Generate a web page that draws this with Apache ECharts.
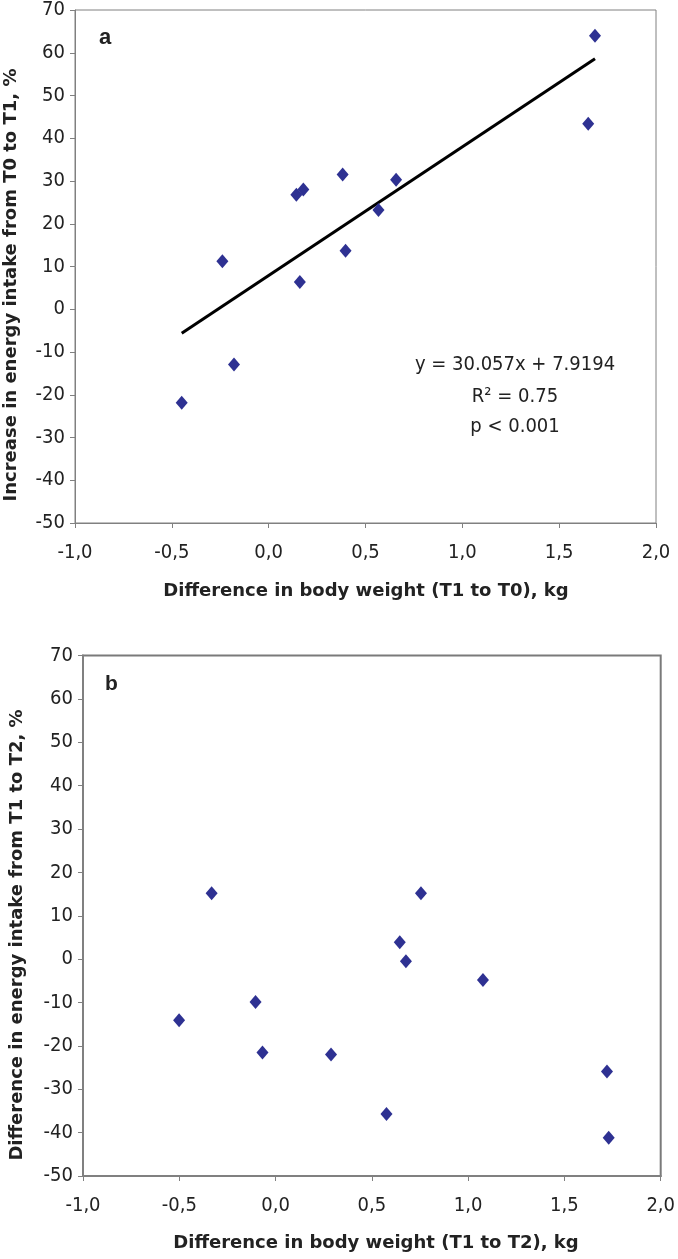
<!DOCTYPE html>
<html>
<head>
<meta charset="utf-8">
<script src="https://cdn.jsdelivr.net/npm/echarts@6/dist/echarts.min.js"></script>
<style>
html,body{margin:0;padding:0;background:#fff;}
#c{width:678px;height:1259px;}
</style>
</head>
<body>
<div id="c"></div>
<script>
// Panel a: change T0 -> T1
const aX = [1.685, 1.650, 0.382, 0.658, 0.143, 0.179, 0.567, 0.397, -0.239, 0.161, -0.179, -0.449];
const aY = [64.0, 43.4, 31.5, 30.3, 26.8, 28.0, 23.2, 13.7, 11.2, 6.4, -12.9, -21.9];
// Regression line endpoints (y = 30.057x + 7.9194)
const trendX = [-0.449, 1.685];
const trendY = [-5.6, 58.6];
// Panel b: change T1 -> T2
const bX = [-0.332, 0.755, 0.645, 0.677, 1.077, -0.104, -0.501, -0.068, 0.288, 1.721, 0.576, 1.730];
const bY = [15.2, 15.2, 3.9, -0.5, -4.8, -9.9, -14.1, -21.5, -22.0, -25.9, -35.7, -41.2];

const xTicks = {min: -1, max: 2, interval: 0.5};
const yTicks = {min: -50, max: 70, interval: 10};
const annotation = ['y = 30.057x + 7.9194', 'R\u00B2 = 0.75', 'p < 0.001'];
const titles = {
  ax: 'Difference in body weight (T1 to T0), kg',
  ay: 'Increase in energy intake from T0 to T1, %',
  bx: 'Difference in body weight (T1 to T2), kg',
  by: 'Difference in energy intake from T1 to T2, %'
};

const narrow = '"Liberation Sans Narrow", "DejaVu Sans Condensed", Arial, sans-serif';
const bold = '"DejaVu Sans", "Liberation Sans", Arial, sans-serif';
const grey = '#808080';
const mark = '#2e3192';

function xAxis(idx, w) {
  return {
    type: 'value', gridIndex: idx, min: xTicks.min, max: xTicks.max, interval: xTicks.interval,
    axisLine: {show: true, onZero: false, lineStyle: {color: grey, width: w}},
    axisTick: {show: true, length: 5, lineStyle: {color: grey, width: 1}},
    splitLine: {show: false},
    axisLabel: {fontFamily: narrow, fontSize: 20, color: '#222', margin: 20,
      formatter: v => v.toFixed(1).replace('.', ',')}
  };
}
function yAxis(idx, w) {
  return {
    type: 'value', gridIndex: idx, min: yTicks.min, max: yTicks.max, interval: yTicks.interval,
    axisLine: {show: true, onZero: false, lineStyle: {color: grey, width: w}},
    axisTick: {show: true, length: 5, lineStyle: {color: grey, width: 1}},
    splitLine: {show: false},
    axisLabel: {fontFamily: narrow, fontSize: 20, color: '#222', margin: 10}
  };
}

const chart = echarts.init(document.getElementById('c'), null, {renderer: 'canvas'});
chart.setOption({
  animation: false,
  backgroundColor: '#fff',
  grid: [
    {left: 75, top: 9.5, width: 581, height: 513.5, show: true, borderColor: grey, borderWidth: 1, backgroundColor: 'transparent'},
    {left: 83, top: 655.5, width: 581, height: 520.5, show: true, borderColor: '#7a7a7a', borderWidth: 2, backgroundColor: 'transparent'}
  ],
  xAxis: [xAxis(0, 1), xAxis(1, 2)],
  yAxis: [yAxis(0, 1), yAxis(1, 2)],
  series: [
    {type: 'line', xAxisIndex: 0, yAxisIndex: 0, data: trendX.map((x, i) => [x, trendY[i]]),
      symbol: 'none', lineStyle: {color: '#000', width: 3}, silent: true, z: 2},
    {type: 'scatter', xAxisIndex: 0, yAxisIndex: 0, data: aX.map((x, i) => [x, aY[i]]),
      symbol: 'diamond', symbolSize: [12, 14], itemStyle: {color: mark, opacity: 1}, z: 3},
    {type: 'scatter', xAxisIndex: 1, yAxisIndex: 1, data: bX.map((x, i) => [x, bY[i]]),
      symbol: 'diamond', symbolSize: [12, 14], itemStyle: {color: mark, opacity: 1}, z: 3}
  ],
  graphic: [
    {type: 'text', x: 99, y: 38, style: {text: 'a', font: 'bold 22px "Liberation Sans", Arial, sans-serif', fill: '#222', textVerticalAlign: 'middle'}},
    {type: 'text', x: 105, y: 684, style: {text: 'b', font: 'bold 21px "Liberation Sans", Arial, sans-serif', fill: '#222', textVerticalAlign: 'middle'}},
    {type: 'text', x: 515, y: 365, style: {text: annotation[0], font: '20px ' + narrow, fill: '#222', textAlign: 'center', textVerticalAlign: 'middle'}},
    {type: 'text', x: 515, y: 397, style: {text: annotation[1], font: '20px ' + narrow, fill: '#222', textAlign: 'center', textVerticalAlign: 'middle'}},
    {type: 'text', x: 515, y: 427, style: {text: annotation[2], font: '20px ' + narrow, fill: '#222', textAlign: 'center', textVerticalAlign: 'middle'}},
    {type: 'text', x: 366, y: 591, style: {text: titles.ax, font: 'bold 18px ' + bold, fill: '#222', textAlign: 'center', textVerticalAlign: 'middle'}},
    {type: 'text', x: 376, y: 1243, style: {text: titles.bx, font: 'bold 18px ' + bold, fill: '#222', textAlign: 'center', textVerticalAlign: 'middle'}},
    {type: 'text', x: 11, y: 285, rotation: Math.PI / 2, style: {text: titles.ay, font: 'bold 18px ' + bold, fill: '#222', textAlign: 'center', textVerticalAlign: 'middle'}},
    {type: 'text', x: 17, y: 935, rotation: Math.PI / 2, style: {text: titles.by, font: 'bold 18px ' + bold, fill: '#222', textAlign: 'center', textVerticalAlign: 'middle'}}
  ]
});
</script>
</body>
</html>
